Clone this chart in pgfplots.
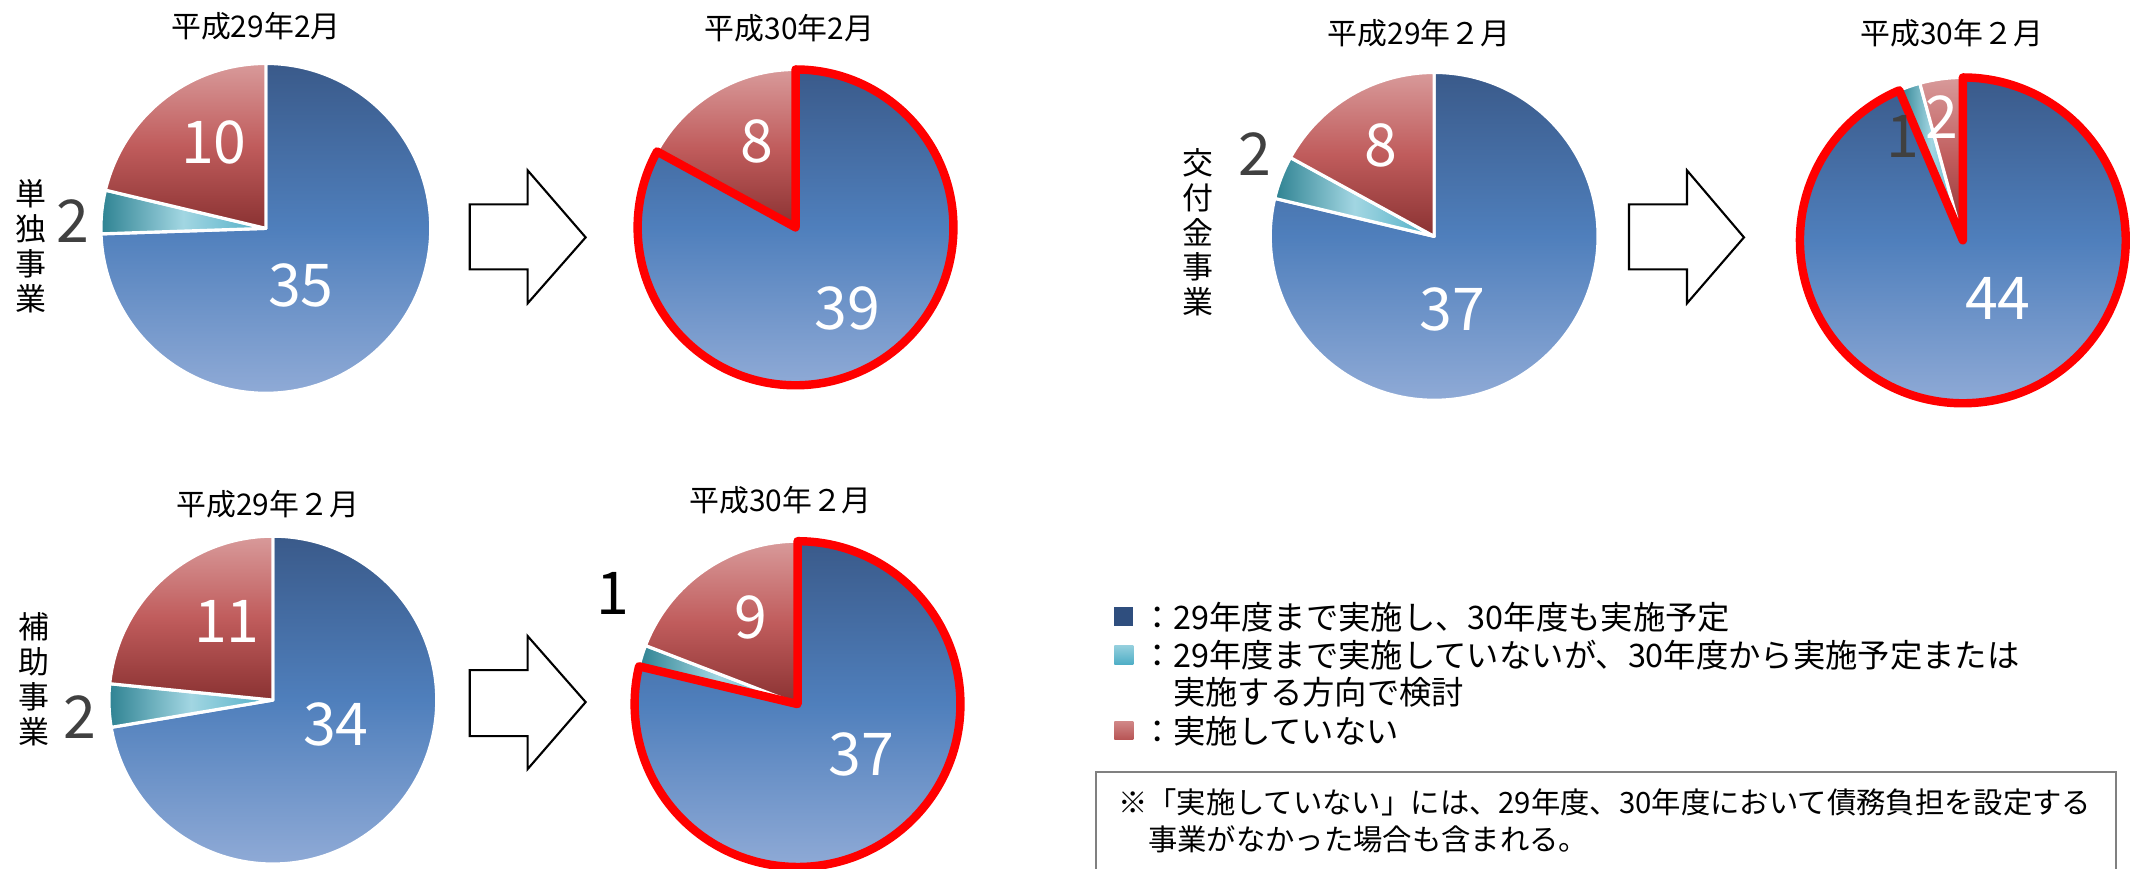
\documentclass[border=0pt]{standalone}
\usepackage{pgfplots}
\usepackage{pgfplotstable}
\pgfplotsset{compat=1.18}
\usepackage{fontspec}
\setmainfont{Noto Sans CJK JP}

\definecolor{bluetop}{HTML}{3A5A8A}
\definecolor{bluemid}{HTML}{4F7FBC}
\definecolor{bluebot}{HTML}{8FAAD6}
\definecolor{redtop}{HTML}{D89A9A}
\definecolor{redmid}{HTML}{C05C5C}
\definecolor{redbot}{HTML}{8A3232}
\definecolor{cyandark}{HTML}{2E8292}
\definecolor{cyanlight}{HTML}{A2D6E2}
\definecolor{cyanmid}{HTML}{4FAEC6}
\definecolor{labelgray}{HTML}{404040}
\definecolor{legblue}{HTML}{2F4E7E}

\newcommand\tfont{\fontsize{8.5}{10}\selectfont}
\newcommand\nfont{\fontsize{16.8}{18}\selectfont}
\newcommand\vfont{\fontsize{8.8}{9.9}\selectfont}
\newcommand\lfont{\fontsize{9.2}{10.5}\selectfont}
\newcommand\notefont{\fontsize{8.35}{10}\selectfont}

% pies: centre and radius in pixels of the picture, counts of the three groups
\pgfplotstableread{
cx   cy  r   blue cyan red ring
266  228 165 35   2    10  0
796  227 158 39   0    8   1
1435 236 164 37   2    8   0
1964 240 163 44   1    2   1
273  700 164 34   2    11  0
798  704 163 37   1    9   1
}\piedata

% #1 #2 centre, #3 radius, #4 #5 #6 counts, #7 red ring round the blue slice
\newcommand{\drawpie}[7]{%
  \shadedraw[draw=white, line width=0.9pt, line join=round,
    top color=bluetop, bottom color=bluebot, middle color=bluemid]
    (axis cs:#1,#2) -- ++(90:{#3*0.01cm})
    arc[start angle=90, delta angle={-360*#4/(#4+#5+#6)}, radius={#3*0.01cm}] -- cycle;
  \shadedraw[draw=white, line width=0.9pt, line join=round,
    left color=cyandark, right color=cyanmid, middle color=cyanlight]
    (axis cs:#1,#2) -- ++({90-360*#4/(#4+#5+#6)}:{#3*0.01cm})
    arc[start angle={90-360*#4/(#4+#5+#6)}, delta angle={-360*#5/(#4+#5+#6)}, radius={#3*0.01cm}] -- cycle;
  \shadedraw[draw=white, line width=0.9pt, line join=round,
    top color=redtop, bottom color=redbot, middle color=redmid]
    (axis cs:#1,#2) -- ++({90-360*(#4+#5)/(#4+#5+#6)}:{#3*0.01cm})
    arc[start angle={90-360*(#4+#5)/(#4+#5+#6)}, delta angle={-360*#6/(#4+#5+#6)}, radius={#3*0.01cm}] -- cycle;
  \ifnum#7=1
  \draw[red, line width=2.4pt, line join=round]
    (axis cs:#1,#2) -- ++(90:{#3*0.01cm})
    arc[start angle=90, delta angle={-360*#4/(#4+#5+#6)}, radius={#3*0.01cm}] -- cycle;
  \fi
}

\begin{document}
\begin{tikzpicture}
\useasboundingbox (0,0) rectangle (21.32,8.69);
\begin{axis}[at={(0,0)}, anchor=south west, x=0.01cm, y=0.01cm,
  xmin=0, xmax=2132, ymin=0, ymax=869, y dir=reverse,
  hide axis, clip=false]
\addplot[draw=none] table[x=cx, y=cy] {\piedata};

\pgfplotsforeachungrouped \i in {0,...,5}{%
  \pgfplotstablegetelem{\i}{cx}\of\piedata\let\pcx\pgfplotsretval
  \pgfplotstablegetelem{\i}{cy}\of\piedata\let\pcy\pgfplotsretval
  \pgfplotstablegetelem{\i}{r}\of\piedata\let\pr\pgfplotsretval
  \pgfplotstablegetelem{\i}{blue}\of\piedata\let\pb\pgfplotsretval
  \pgfplotstablegetelem{\i}{cyan}\of\piedata\let\pc\pgfplotsretval
  \pgfplotstablegetelem{\i}{red}\of\piedata\let\pd\pgfplotsretval
  \pgfplotstablegetelem{\i}{ring}\of\piedata\let\pring\pgfplotsretval
  \edef\doit{\noexpand\drawpie{\pcx}{\pcy}{\pr}{\pb}{\pc}{\pd}{\pring}}\doit
}

% titles
\node[font=\tfont, inner sep=0] at (axis cs:256,26) {平成29年2月};
\node[font=\tfont, inner sep=0] at (axis cs:790,28) {平成30年2月};
\node[font=\tfont, inner sep=0] at (axis cs:1420,33) {平成29年２月};
\node[font=\tfont, inner sep=0] at (axis cs:1953,33) {平成30年２月};
\node[font=\tfont, inner sep=0] at (axis cs:268,504) {平成29年２月};
\node[font=\tfont, inner sep=0] at (axis cs:781,500) {平成30年２月};

% row labels
\node[font=\vfont, align=center, inner sep=0] at (axis cs:31,246) {単\\独\\事\\業};
\node[font=\vfont, align=center, inner sep=0] at (axis cs:1199,232) {交\\付\\金\\事\\業};
\node[font=\vfont, align=center, inner sep=0] at (axis cs:34,679) {補\\助\\事\\業};

% slice labels
\begin{scope}[every node/.style={font=\nfont, inner sep=0, text=white}]
\node at (axis cs:214,142) {10};
\node at (axis cs:301,285) {35};
\node at (axis cs:757,141) {8};
\node at (axis cs:848,308) {39};
\node at (axis cs:1382,145) {8};
\node at (axis cs:1453,309) {37};
\node at (axis cs:1943,117) {2};
\node at (axis cs:1999,298) {44};
\node at (axis cs:227,621) {11};
\node at (axis cs:336,724) {34};
\node at (axis cs:751,617) {9};
\node at (axis cs:862,754) {37};
\node[text=labelgray] at (axis cs:73,221) {2};
\node[text=labelgray] at (axis cs:1256,154) {2};
\node[text=labelgray] at (axis cs:1904,136) {1};
\node[text=labelgray] at (axis cs:80,717) {2};
\node[text=black] at (axis cs:613,593) {1};
\end{scope}

% arrows
\draw[line width=0.6pt, fill=white] (axis cs:470,204) -- (axis cs:528,204) -- (axis cs:528,170)
  -- (axis cs:586,237) -- (axis cs:528,303) -- (axis cs:528,269) -- (axis cs:470,269) -- cycle;
\draw[line width=0.6pt, fill=white] (axis cs:1630,204) -- (axis cs:1688,204) -- (axis cs:1688,170)
  -- (axis cs:1745,237) -- (axis cs:1688,303) -- (axis cs:1688,269) -- (axis cs:1630,269) -- cycle;
\draw[line width=0.6pt, fill=white] (axis cs:470,670) -- (axis cs:528,670) -- (axis cs:528,636)
  -- (axis cs:586,702) -- (axis cs:528,769) -- (axis cs:528,736) -- (axis cs:470,736) -- cycle;

% legend
\fill[legblue] (axis cs:1115,607) rectangle (axis cs:1134,626);
\shade[top color=cyanlight!85!cyanmid, bottom color=cyanmid] (axis cs:1115,645) rectangle (axis cs:1134,664);
\shade[top color=redtop!70!redmid, bottom color=redmid!85!redbot] (axis cs:1115,721) rectangle (axis cs:1134,739);
\node[font=\lfont, inner sep=0, anchor=west] at (axis cs:1141,617) {：29年度まで実施し、30年度も実施予定};
\node[font=\lfont, inner sep=0, anchor=west] at (axis cs:1141,655) {：29年度まで実施していないが、30年度から実施予定または};
\node[font=\lfont, inner sep=0, anchor=west] at (axis cs:1173,692) {実施する方向で検討};
\node[font=\lfont, inner sep=0, anchor=west] at (axis cs:1141,731) {：実施していない};

% note
\draw[gray, line width=0.5pt] (axis cs:1097,900) -- (axis cs:1097,772) -- (axis cs:2117,772) -- (axis cs:2117,900);
\node[font=\notefont, inner sep=0, anchor=west] at (axis cs:1118,802) {※「実施していない」には、29年度、30年度において債務負担を設定する};
\node[font=\notefont, inner sep=0, anchor=west] at (axis cs:1148,839) {事業がなかった場合も含まれる。};
\end{axis}
\end{tikzpicture}
\end{document}
